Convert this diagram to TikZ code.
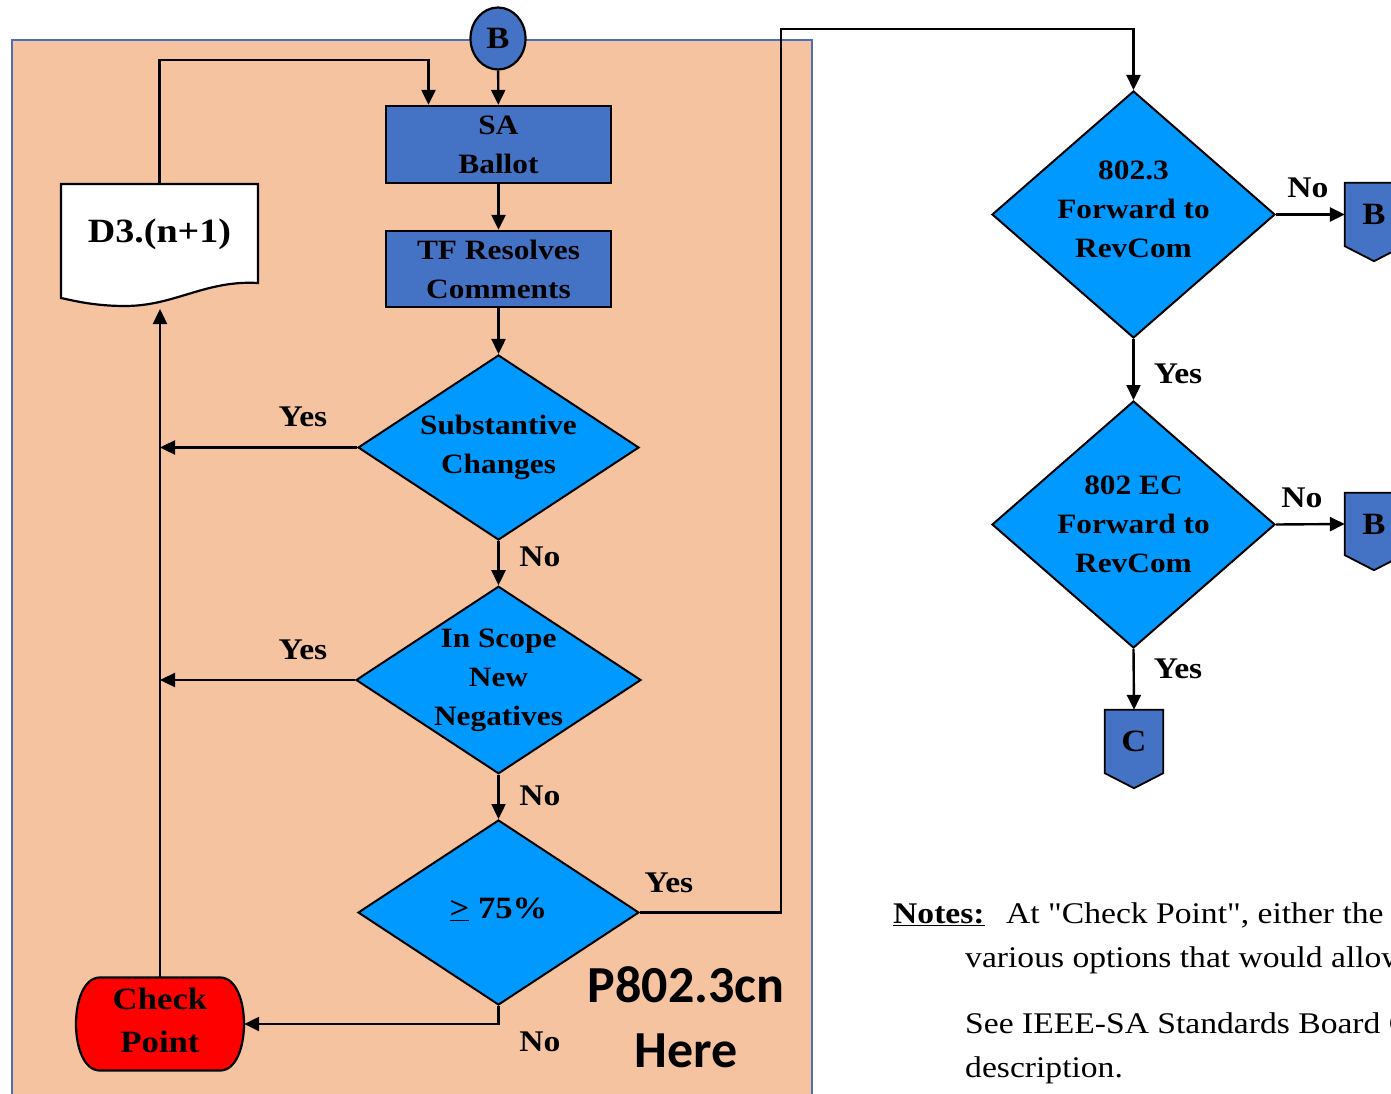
\documentclass[tikz,border=0pt]{standalone}
\usepackage{fontspec}
\setmainfont{Liberation Serif}
\newfontfamily\garf{Liberation Serif}[FakeStretch=1.12]
\newfontfamily\carlf{Carlito}
\usetikzlibrary{arrows.meta,shapes.geometric,calc,backgrounds}
\definecolor{peach}{HTML}{F5C3A0}
\definecolor{frameblue}{HTML}{4A6EB8}
\definecolor{boxblue}{HTML}{4472C4}
\definecolor{diablue}{HTML}{0099FF}
\definecolor{cpred}{HTML}{FF0000}
\begin{document}
\begin{tikzpicture}[x=1pt,y=-1pt,
  lab/.style={font=\fontsize{30}{39}\selectfont\garf\bfseries, inner sep=0},
  txt/.style={font=\fontsize{28}{39}\selectfont\garf\bfseries, align=center, text=black},
  box/.style={txt, rectangle, draw, line width=2.4pt, fill=boxblue, minimum width=225pt, minimum height=77pt, inner sep=0},
  dia/.style={txt, diamond, draw, line width=2pt, fill=diablue, minimum width=281pt, minimum height=185pt, inner sep=0, aspect=1.52},
  bigdia/.style={dia, minimum width=283pt, minimum height=247pt, aspect=1.15},
  arr/.style={draw, line width=2.4pt, -{Triangle[length=15pt,width=14pt]}},
  offp/.style={draw, line width=1.8pt, fill=boxblue},
  hold/.style={inner sep=0, minimum width=58pt, minimum height=63pt, font=\fontsize{31}{36}\selectfont\garf\bfseries},
  notes/.style={anchor=base west, inner sep=0, font=\fontsize{30}{36}\selectfont\garf}
]
\useasboundingbox (0,0) rectangle (1391,1094);
\clip (0,0) rectangle (1391,1094);
\begin{pgfonlayer}{background}
  \path[fill=peach, draw=frameblue, line width=2pt] (12,40) rectangle (812,1110);
\end{pgfonlayer}

% nodes
\node[ellipse, draw, line width=2.2pt, fill=boxblue, minimum width=55pt, minimum height=62pt, inner sep=0, font=\fontsize{31}{36}\selectfont\garf\bfseries] (Bc) at (498,38.5) {B};
\node[box] (SA) at (498.5,144.5) {SA\\Ballot};
\node[box, minimum height=76pt] (TF) at (498.5,269) {TF Resolves\\Comments};
\node[dia] (SC) at (498.5,447.5) {Substantive\\Changes};
\node[dia] (IS) at (498.5,680) {In Scope\\New\\Negatives};
\node[dia, font=\fontsize{31}{39}\selectfont\garf\bfseries, text depth=8pt] (GE) at (498.5,912.5) {\underline{>} 75\%};
\node[txt, inner sep=0, minimum width=197pt, minimum height=100pt, font=\fontsize{34}{40}\selectfont\garf\bfseries] (D3) at (159.5,234) {D3.(n+1)};
\node[txt, inner sep=0, minimum width=168pt, minimum height=93pt, text depth=8pt, font=\fontsize{31}{43}\selectfont\garf\bfseries] (CP) at (160,1024) {Check\\Point};

\node[bigdia, text depth=10pt] (F1) at (1133.5,214.5) {802.3\\Forward to\\RevCom};
\node[bigdia] (F2) at (1133.5,524.5) {802 EC\\Forward to\\RevCom};
\node[hold] (B1) at (1374,214.5) {B};
\node[hold, minimum height=62pt] (B2) at (1374,524) {B};
\node[hold] (C) at (1134,741.5) {C};

\node[font=\fontsize{52}{65}\selectfont\carlf\bfseries, align=center, inner sep=0] (here) at (686,1017) {P802.3cn\\Here};

% background shapes
\begin{pgfonlayer}{background}
  \path[draw, line width=2.2pt, fill=white] (61,184) -- (258,184) -- (258,283)
     .. controls (205,280) and (175,306) .. (125,306)
     .. controls (95,306) and (75,301) .. (61,298) -- cycle;
  \path[draw, line width=2.2pt, fill=cpred] (100,977.5) -- (220,977.5)
     .. controls (252,977.5) and (252,1070.5) .. (220,1070.5) -- (100,1070.5)
     .. controls (68,1070.5) and (68,977.5) .. (100,977.5) -- cycle;
  \foreach \n in {B1,B2,C}{
    \path[offp] (\n.north west) -- (\n.north east) -- (\n.south east) -- ($(\n.south)+(0,15)$) -- (\n.south west) -- cycle;
  }
\end{pgfonlayer}

% connectors
\draw[arr] (Bc) -- (SA);
\draw[arr] (SA) -- (TF);
\draw[arr] (TF) -- (SC);
\draw[arr] (SC) -- (IS);
\draw[arr] (IS) -- (GE);
\draw[arr] (D3.north) -- ++(0,-124) -| ($(SA.north)+(-70,0)$);
\draw[arr] (SC.west) -- (SC.west -| CP.north);
\draw[arr] (IS.west) -- (IS.west -| CP.north);
\coordinate (up) at (781,29);
\draw[arr] (GE.east) -| (up) -| (F1.north);
\draw[arr] (GE.south) |- (CP.east);
\coordinate (docB) at (160,309);
\draw[arr] (CP.north) -- (docB);
\draw[arr] (F1.east) -- (B1.west);
\draw[arr] (F1.south) -- (F2.north);
\draw[arr] (F2.east) -- (B2.west);
\draw[arr] (F2.south) -- (C.north);

% labels
\node[lab] (y1) at (303,417) {Yes};
\node[lab] (y2) at (303,650) {Yes};
\node[lab] (n1) at (540,557) {No};
\node[lab] (n2) at (540,796) {No};
\node[lab] (y3) at (669,883) {Yes};
\node[lab] (n3) at (540,1042) {No};
\node[lab] (n4) at (1308,188) {No};
\node[lab] (y4) at (1178,374) {Yes};
\node[lab] (n5) at (1302,498) {No};
\node[lab] (y5) at (1178,669) {Yes};

% notes
\node[notes] (nt0) at (893,923) {\underline{\bfseries Notes:}};
\node[notes] (nt1) at (1006,923) {At "Check Point", either the};
\node[notes] (nt2) at (965,967) {various options that would allow};
\node[notes] (nt3) at (965,1033) {See IEEE-SA Standards Board O};
\node[notes] (nt4) at (965,1077) {description.};
\end{tikzpicture}
\end{document}
